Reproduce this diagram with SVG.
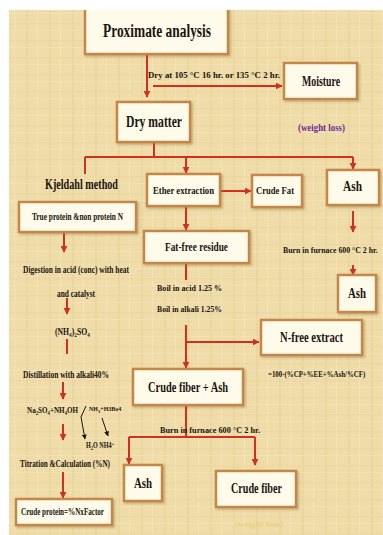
<svg xmlns="http://www.w3.org/2000/svg" width="383" height="535" viewBox="0 0 383 535">
<defs>
<style>
.t{font-family:"Liberation Serif","DejaVu Serif",serif;font-weight:bold;fill:#1a1410;}
.box{fill:#fffbea;stroke:#c48746;stroke-width:2.5;}
.ln{fill:none;stroke:#d0301e;stroke-width:2;}
.bk{fill:none;stroke:#1a1410;stroke-width:1;}
</style>
<marker id="ar" viewBox="0 0 10 10" refX="9" refY="5" markerWidth="7" markerHeight="7" markerUnits="userSpaceOnUse" orient="auto">
<path d="M0 0 L10 5 L0 10 z" fill="#d0301e"/>
</marker>
<marker id="ab" viewBox="0 0 10 10" refX="9" refY="5" markerWidth="5" markerHeight="5" markerUnits="userSpaceOnUse" orient="auto">
<path d="M0 0 L10 5 L0 10 z" fill="#1a1410"/>
</marker>
<filter id="sh" x="-10%" y="-10%" width="130%" height="140%">
<feDropShadow dx="1.5" dy="1.5" stdDeviation="1" flood-color="#8a6a30" flood-opacity="0.45"/>
</filter>
<pattern id="tex" width="23" height="17" patternUnits="userSpaceOnUse">
<rect width="23" height="17" fill="#efdca9"/>
<rect x="3" width="2" height="17" fill="#e6cf95" opacity="0.5"/>
<rect x="14" width="1" height="17" fill="#f6e8c0" opacity="0.6"/>
<rect y="6" width="23" height="1.5" fill="#e8d39c" opacity="0.5"/>
<rect y="13" width="23" height="1" fill="#f5e6bd" opacity="0.5"/>
</pattern>
</defs>
<rect width="383" height="535" fill="#ffffff"/>
<rect x="9" y="10" width="374" height="525" fill="url(#tex)"/>

<g id="connectors">
<path class="ln" d="M147 54 V97" marker-end="url(#ar)"/>
<path class="ln" d="M153 86 H282" marker-end="url(#ar)"/>
<path class="ln" d="M154 142 V157"/>
<path class="ln" d="M85 157 H353"/>
<path class="ln" d="M85 157 V174"/>
<path class="ln" d="M186 157 V173" marker-end="url(#ar)"/>
<path class="ln" d="M353 157 V169" marker-end="url(#ar)"/>
<path class="ln" d="M221 191 H251" marker-end="url(#ar)"/>
<path class="ln" d="M186 206 V230" marker-end="url(#ar)"/>
<path class="ln" d="M353 211 V232" marker-end="url(#ar)"/>
<path class="ln" d="M353 265 V275" marker-end="url(#ar)"/>
<path class="ln" d="M64 232 V252" marker-end="url(#ar)"/>
<path class="ln" d="M67 298 V314" marker-end="url(#ar)"/>
<path class="ln" d="M67 339 V354"/>
<path class="ln" d="M63 382 V399" marker-end="url(#ar)"/>
<path class="ln" d="M63 424 V440" marker-end="url(#ar)"/>
<path class="ln" d="M63 472 V498" marker-end="url(#ar)"/>
<path class="ln" d="M186 263 V280"/>
<path class="ln" d="M186 325 V368" marker-end="url(#ar)"/>
<path class="ln" d="M186 342 H259" marker-end="url(#ar)"/>
<path class="ln" d="M186 405 V437"/>
<path class="ln" d="M129 437 H255"/>
<path class="ln" d="M129 437 V464" marker-end="url(#ar)"/>
<path class="ln" d="M255 437 V465" marker-end="url(#ar)"/>
<path class="bk" d="M86 406 L81 417 L85 439" marker-end="url(#ab)"/>
<path class="bk" d="M102 418 L108 436" marker-end="url(#ab)"/>
</g>

<g id="proximate">
<rect class="box" x="85" y="4" width="143" height="50" filter="url(#sh)"/>
<text class="t" x="103" y="37" font-size="18" textLength="108" lengthAdjust="spacingAndGlyphs">Proximate analysis</text>
</g>
<rect x="0" y="0" width="383" height="10" fill="#ffffff"/>

<g id="dry-label">
<text class="t" x="148" y="78" font-size="9" textLength="132" lengthAdjust="spacingAndGlyphs">Dry at 105 °C  16 hr. or 135 °C 2 hr.</text>
</g>

<g id="moisture">
<rect class="box" x="284" y="63" width="73" height="36" filter="url(#sh)"/>
<text class="t" x="302" y="86" font-size="14" textLength="38" lengthAdjust="spacingAndGlyphs">Moisture</text>
<text class="t" x="298" y="131" font-size="9.5" style="fill:#6a2c9a" textLength="47" lengthAdjust="spacingAndGlyphs">(weight loss)</text>
</g>

<g id="dry-matter">
<rect class="box" x="117" y="102" width="73" height="40" filter="url(#sh)"/>
<text class="t" x="126" y="127" font-size="16" textLength="56" lengthAdjust="spacingAndGlyphs">Dry matter</text>
</g>

<g id="kjeldahl">
<text class="t" x="45" y="189" font-size="14" textLength="73" lengthAdjust="spacingAndGlyphs">Kjeldahl method</text>
</g>

<g id="true-protein">
<rect class="box" x="19" y="202" width="117" height="30" filter="url(#sh)"/>
<text class="t" x="32" y="220" font-size="10" textLength="91" lengthAdjust="spacingAndGlyphs">True protein &amp;non protein N</text>
</g>

<g id="kjeldahl-steps">
<text class="t" x="23" y="273" font-size="9.5" textLength="106" lengthAdjust="spacingAndGlyphs">Digestion in acid (conc) with heat</text>
<text class="t" x="57" y="297" font-size="9.5" textLength="38" lengthAdjust="spacingAndGlyphs">and catalyst</text>
<text class="t" transform="translate(55,335) scale(0.81,1)" font-size="9.5">(NH<tspan font-size="6.5" dy="2">4</tspan><tspan dy="-2">)</tspan><tspan font-size="6.5" dy="2">2</tspan><tspan dy="-2">SO</tspan><tspan font-size="6.5" dy="2">4</tspan></text>
<text class="t" x="23" y="378" font-size="9.5" textLength="86" lengthAdjust="spacingAndGlyphs">Distillation with alkali40%</text>
<text class="t" transform="translate(27,413) scale(0.79,1)" font-size="9">Na<tspan font-size="6" dy="2">2</tspan><tspan dy="-2">SO</tspan><tspan font-size="6" dy="2">4</tspan><tspan dy="-2">+NH</tspan><tspan font-size="6" dy="2">4</tspan><tspan dy="-2">OH</tspan></text>
<text class="t" x="89" y="411" font-size="6">NH<tspan font-size="4.5" dy="1.5">3</tspan><tspan dy="-1.5">+H3Bo4</tspan></text>
<text class="t" transform="translate(86,448) scale(0.82,1)" font-size="7.5">H<tspan font-size="5.5" dy="1.5">2</tspan><tspan dy="-1.5">O NH4</tspan><tspan font-size="5" dy="-3">+</tspan></text>
<text class="t" x="20" y="467" font-size="9.5" textLength="90" lengthAdjust="spacingAndGlyphs">Titration &amp;Calculation (%N)</text>
</g>

<g id="crude-protein">
<rect class="box" x="16" y="499" width="96" height="26" filter="url(#sh)"/>
<text class="t" x="21" y="515" font-size="9.5" textLength="83" lengthAdjust="spacingAndGlyphs">Crude protein=%NxFactor</text>
</g>

<g id="ether">
<rect class="box" x="147" y="174" width="73" height="32" filter="url(#sh)"/>
<text class="t" x="153" y="194" font-size="11" textLength="61" lengthAdjust="spacingAndGlyphs">Ether extraction</text>
</g>

<g id="crude-fat">
<rect class="box" x="252" y="175" width="50" height="32" filter="url(#sh)"/>
<text class="t" x="256" y="194" font-size="11" textLength="38" lengthAdjust="spacingAndGlyphs">Crude Fat</text>
</g>

<g id="ash-top">
<rect class="box" x="327" y="170" width="52" height="35" filter="url(#sh)"/>
<text class="t" x="343" y="191" font-size="14" textLength="19" lengthAdjust="spacingAndGlyphs">Ash</text>
</g>

<g id="burn-right">
<text class="t" transform="translate(283,253) scale(0.87,1)" font-size="9">Burn in furnace 600 °C 2 hr.</text>
</g>

<g id="ash-right">
<rect class="box" x="338" y="275" width="38" height="37" filter="url(#sh)"/>
<text class="t" x="348" y="298" font-size="14" textLength="18" lengthAdjust="spacingAndGlyphs">Ash</text>
</g>

<g id="fat-free">
<rect class="box" x="144" y="231" width="105" height="32" filter="url(#sh)"/>
<text class="t" x="165" y="251" font-size="13" textLength="63" lengthAdjust="spacingAndGlyphs">Fat-free residue</text>
</g>

<g id="boil">
<text class="t" x="157" y="291" font-size="9" textLength="65" lengthAdjust="spacingAndGlyphs">Boil in acid 1.25 %</text>
<text class="t" x="157" y="312" font-size="9" textLength="65" lengthAdjust="spacingAndGlyphs">Boil in alkali 1.25%</text>
</g>

<g id="n-free">
<rect class="box" x="261" y="320" width="101" height="35" filter="url(#sh)"/>
<text class="t" x="280" y="342" font-size="14" textLength="63" lengthAdjust="spacingAndGlyphs">N-free extract</text>
<text class="t" transform="translate(268,377) scale(0.81,1)" font-size="8.5">=100-(%CP+%EE+%Ash/%CF)</text>
</g>

<g id="crude-fiber-ash">
<rect class="box" x="133" y="369" width="110" height="36" filter="url(#sh)"/>
<text class="t" x="148" y="392" font-size="15" textLength="80" lengthAdjust="spacingAndGlyphs">Crude fiber + Ash</text>
</g>

<g id="burn-lower">
<text class="t" x="160" y="433" font-size="9" textLength="100" lengthAdjust="spacingAndGlyphs">Burn in furnace 600 °C 2 hr.</text>
</g>

<g id="ash-bottom">
<rect class="box" x="124" y="465" width="38" height="36" filter="url(#sh)"/>
<text class="t" x="134" y="488" font-size="14" textLength="18" lengthAdjust="spacingAndGlyphs">Ash</text>
</g>

<g id="crude-fiber">
<rect class="box" x="216" y="471" width="80" height="36" filter="url(#sh)"/>
<text class="t" x="231" y="493" font-size="14" textLength="51" lengthAdjust="spacingAndGlyphs">Crude fiber</text>
</g>

<g id="faint-note">
<text class="t" x="235" y="527" font-size="8.5" style="fill:#ead27a" textLength="48" lengthAdjust="spacingAndGlyphs">(weight loss)</text>
</g>
</svg>
